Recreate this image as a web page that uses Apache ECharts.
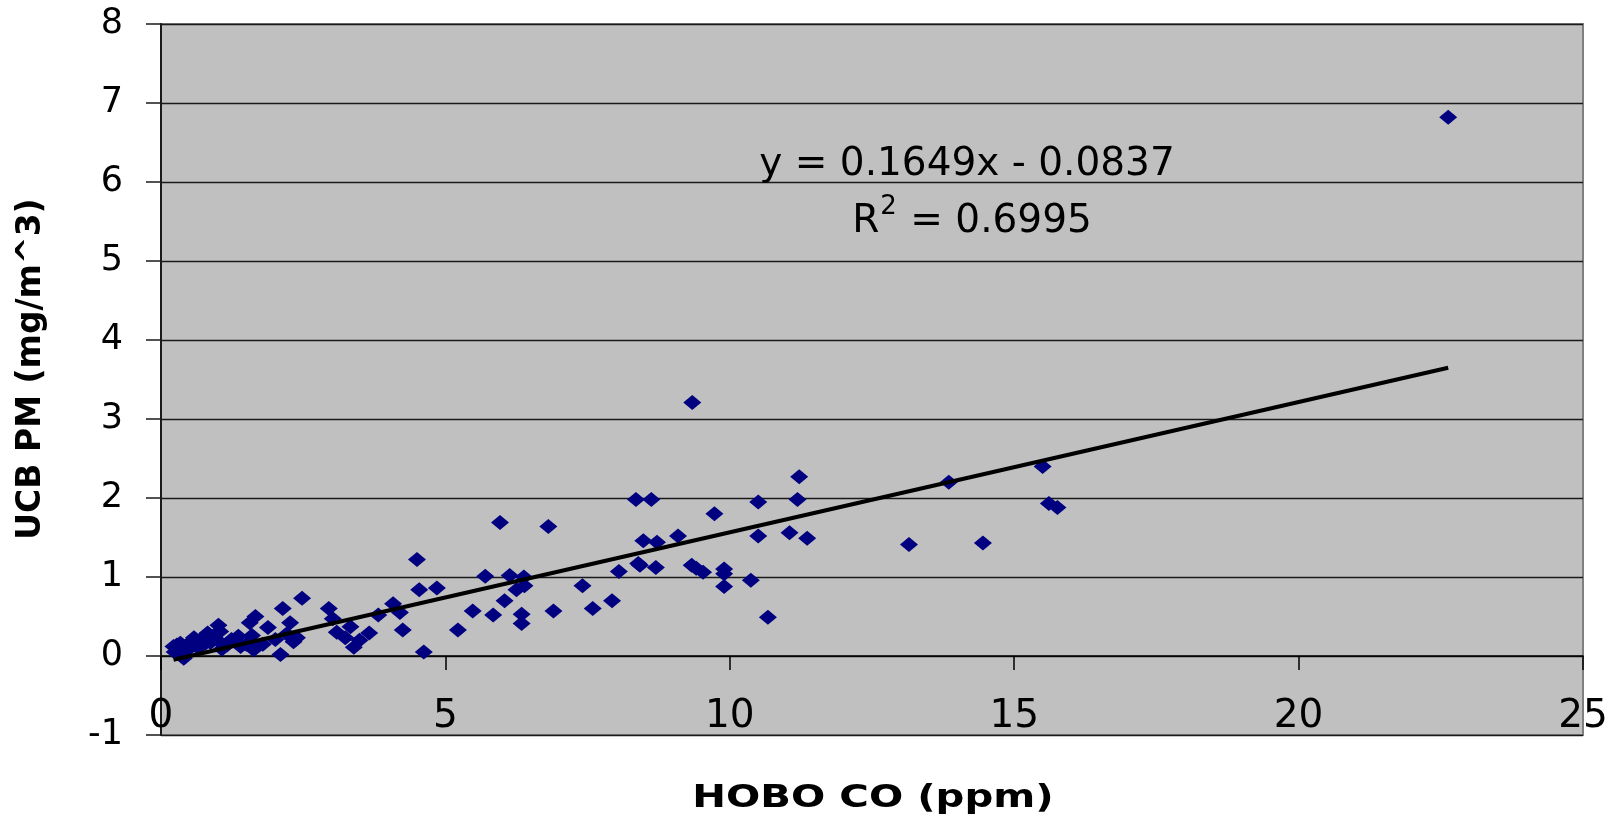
<!DOCTYPE html>
<html>
<head>
<meta charset="utf-8">
<script src="https://cdn.jsdelivr.net/npm/echarts@6/dist/echarts.min.js"></script>
<style>
html,body{margin:0;padding:0;background:#ffffff;}
#chart{width:1624px;height:826px;}
</style>
</head>
<body>
<div id="chart"></div>
<script>
// ---- data ----
const hoboCO = [
  0.22,0.24,0.28,0.31,0.34,0.38,0.40,0.44,0.47,0.51,
  0.55,0.58,0.62,0.66,0.70,0.75,0.78,0.82,0.87,0.93,
  0.98,1.01,1.04,1.07,1.16,1.24,1.31,1.36,1.40,1.50,
  1.56,1.60,1.63,1.66,1.79,1.88,2.01,2.10,2.14,2.21,
  2.27,2.33,2.39,2.48,2.95,3.02,3.09,3.24,3.33,3.39,
  3.49,3.66,3.82,4.08,4.20,4.25,4.50,4.54,4.62,4.85,
  5.22,5.48,5.70,5.84,5.96,6.04,6.13,6.25,6.34,6.34,
  6.38,6.39,6.81,6.90,7.41,7.59,7.93,8.05,8.35,8.62,
  8.39,8.42,8.48,8.72,8.70,9.09,9.34,9.33,9.41,9.53,
  9.73,9.90,9.90,9.90,10.37,10.50,10.50,10.67,11.05,11.19,
  11.22,11.36,13.15,13.85,14.45,15.50,15.61,15.76,22.63
];
const ucbPM = [
  0.12,0.05,0.14,0.08,0.16,0.11,-0.03,0.06,0.15,0.12,
  0.19,0.23,0.14,0.10,0.21,0.24,0.16,0.29,0.17,0.26,
  0.21,0.39,0.31,0.09,0.14,0.21,0.18,0.25,0.12,0.15,
  0.42,0.26,0.08,0.50,0.15,0.36,0.21,0.02,0.60,0.28,
  0.42,0.18,0.23,0.73,0.60,0.47,0.30,0.23,0.37,0.11,
  0.20,0.29,0.52,0.66,0.55,0.33,1.22,0.84,0.05,0.86,
  0.33,0.57,1.01,0.52,1.69,0.70,1.02,0.84,0.53,0.41,
  1.00,0.89,1.64,0.57,0.89,0.60,0.70,1.07,1.98,1.98,
  1.17,1.15,1.46,1.44,1.12,1.52,3.21,1.15,1.11,1.06,
  1.80,1.10,1.04,0.88,0.96,1.95,1.52,0.49,1.56,1.98,
  2.27,1.49,1.41,2.20,1.43,2.40,1.93,1.88,6.82
];
const xTickLabels = [0, 5, 10, 15, 20, 25];
const yTickLabels = [-1, 0, 1, 2, 3, 4, 5, 6, 7, 8];
const xTitle = 'HOBO CO (ppm)';
const yTitle = 'UCB PM (mg/m^3)';
const trendSlope = 0.1649;
const trendIntercept = -0.0837;
const trendR2 = 0.6995;

// ---- build ----
const points = hoboCO.map((x, i) => [x, ucbPM[i]]);
const xMinData = Math.min.apply(null, hoboCO);
const xMaxData = Math.max.apply(null, hoboCO);
const trendPts = [
  [xMinData, trendSlope * xMinData + trendIntercept],
  [xMaxData, trendSlope * xMaxData + trendIntercept]
];
const eqText = 'y = ' + trendSlope.toFixed(4) + 'x - ' + Math.abs(trendIntercept).toFixed(4);
const r2Text = '{n|R}{s|2}{n| = ' + trendR2.toFixed(4) + '}';

const FONT = 'DejaVu Sans';
const chart = echarts.init(document.getElementById('chart'), null, {renderer: 'canvas'});

chart.setOption({
  animation: false,
  backgroundColor: '#ffffff',
  grid: {
    left: 161, right: 41, top: 24, bottom: 91,
    show: true,
    backgroundColor: '#c0c0c0',
    borderColor: '#808080',
    borderWidth: 2,
    containLabel: false
  },
  xAxis: {
    type: 'value',
    min: xTickLabels[0],
    max: xTickLabels[xTickLabels.length - 1],
    interval: xTickLabels[1] - xTickLabels[0],
    axisLine: {show: true, onZero: true, lineStyle: {color: '#000000', width: 1.5}},
    axisTick: {show: true, inside: false, length: 14, lineStyle: {color: '#000000', width: 1.5}},
    axisLabel: {
      show: true, margin: -38, color: '#000000',
      fontFamily: FONT, fontSize: 39,
      showMinLabel: true, showMaxLabel: true, hideOverlap: false
    },
    splitLine: {show: false}
  },
  yAxis: {
    type: 'value',
    min: yTickLabels[0],
    max: yTickLabels[yTickLabels.length - 1],
    interval: yTickLabels[1] - yTickLabels[0],
    axisLine: {show: true, onZero: false, lineStyle: {color: '#1a1a1a', width: 2}},
    axisTick: {show: true, inside: false, length: 15, lineStyle: {color: '#1a1a1a', width: 1.5}},
    axisLabel: {
      show: true, margin: 38, color: '#000000',
      fontFamily: FONT, fontSize: 35,
      showMinLabel: true, showMaxLabel: true, hideOverlap: false
    },
    splitLine: {show: true, lineStyle: {color: '#1a1a1a', width: 1.3}}
  },
  series: [
    {
      name: 'UCB PM',
      type: 'scatter',
      data: points,
      symbol: 'diamond',
      symbolSize: [18, 15],
      itemStyle: {color: '#000080', opacity: 1},
      z: 3
    },
    {
      name: 'Linear trend',
      type: 'line',
      data: trendPts,
      showSymbol: false,
      symbol: 'none',
      lineStyle: {color: '#000000', width: 4},
      z: 4
    }
  ],
  graphic: [
    {
      type: 'text', x: 967, y: 165, z: 10,
      style: {
        text: eqText, fill: '#000000',
        font: '39px "' + FONT + '"',
        align: 'center', verticalAlign: 'middle'
      }
    },
    {
      type: 'text', x: 972, y: 222, z: 10,
      style: {
        text: r2Text, fill: '#000000',
        align: 'center', verticalAlign: 'middle',
        rich: {
          n: {fontFamily: FONT, fontSize: 39, lineHeight: 40, fill: '#000000'},
          s: {fontFamily: FONT, fontSize: 26, lineHeight: 26, padding: [0, 1, 30, 1], fill: '#000000'}
        }
      }
    },
    {
      type: 'text', x: 873, y: 799, z: 10, scaleX: 1.26,
      style: {
        text: xTitle, fill: '#000000',
        font: 'bold 32px "' + FONT + '"',
        align: 'center', verticalAlign: 'middle'
      }
    },
    {
      type: 'text', x: 31, y: 369, z: 10, rotation: Math.PI / 2,
      style: {
        text: yTitle, fill: '#000000',
        font: 'bold 33px "' + FONT + '"',
        align: 'center', verticalAlign: 'middle'
      }
    }
  ]
});
</script>
</body>
</html>
